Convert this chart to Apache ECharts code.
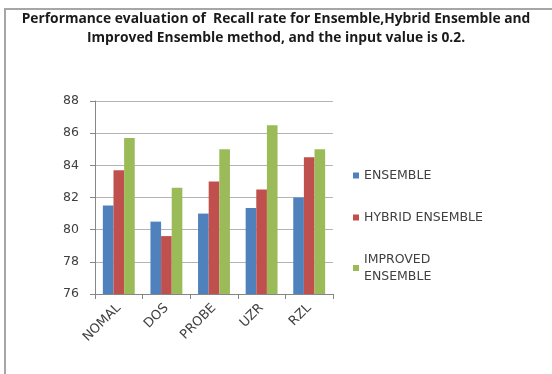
<!DOCTYPE html>
<html>
<head>
<meta charset="utf-8">
<script src="https://cdn.jsdelivr.net/npm/echarts@6/dist/echarts.min.js"></script>
<style>
  html, body { margin: 0; padding: 0; background: #fff; }
  #frame { position: absolute; left: 4px; top: 8px; width: 560px; height: 380px;
           border-left: 2px solid #a6a6a6; border-top: 2px solid #a6a6a6; }
  #main { position: absolute; left: 0; top: 0; width: 552px; height: 374px; }
</style>
</head>
<body>
<div id="frame"></div>
<div id="main"></div>
<script>
// 类别与数值
var categories = ['NOMAL', 'DOS', 'PROBE', 'UZR', 'RZL'];
var seriesNames = ['ENSEMBLE', 'HYBRID ENSEMBLE', 'IMPROVED ENSEMBLE'];
var ensemble = [81.5, 80.5, 81.0, 81.35, 82.0];
var hybridEnsemble = [83.7, 79.6, 83.0, 82.5, 84.5];
var improvedEnsemble = [85.7, 82.6, 85.0, 86.5, 85.0];
var titleLines = ['Performance evaluation of  Recall rate for Ensemble,Hybrid Ensemble and',
                  'Improved Ensemble method, and the input value is 0.2.'];

var myChart = echarts.init(document.getElementById('main'));

var option = {
    backgroundColor: 'transparent',
    color: ['#4F81BD', '#C0504D', '#9BBB59'],
    title: {
        text: titleLines.join('\n'),
        left: 'center',
        top: 5,
        textStyle: {
            fontFamily: 'Open Sans',
            fontWeight: 'bold',
            fontSize: 13.8,
            lineHeight: 19,
            color: '#1a1a1a'
        }
    },
    legend: {
        orient: 'vertical',
        left: 348,
        top: 162,
        itemWidth: 6,
        itemHeight: 6,
        itemGap: 25,
        icon: 'rect',
        data: [
            { name: seriesNames[0] },
            { name: seriesNames[1] },
            { name: seriesNames[2] }
        ],
        formatter: function (name) {
            return name === 'IMPROVED ENSEMBLE' ? 'IMPROVED\nENSEMBLE' : name;
        },
        textStyle: {
            fontFamily: 'DejaVu Sans',
            fontSize: 12.5,
            lineHeight: 17,
            color: '#404040'
        }
    },
    grid: {
        left: 95,
        right: 219,
        top: 101,
        bottom: 80
    },
    xAxis: [{
        type: 'category',
        data: categories,
        axisLine: { lineStyle: { color: '#868686' } },
        axisTick: { show: true, length: 5, lineStyle: { color: '#868686' } },
        axisLabel: {
            rotate: 45,
            fontFamily: 'DejaVu Sans',
            fontSize: 13,
            color: '#404040',
            margin: 12
        }
    }],
    yAxis: [{
        type: 'value',
        min: 76,
        max: 88,
        interval: 2,
        axisLine: { show: true, lineStyle: { color: '#868686' } },
        axisTick: { show: true, length: 5, lineStyle: { color: '#868686' } },
        axisLabel: {
            fontFamily: 'DejaVu Sans',
            fontSize: 12.5,
            color: '#404040',
            margin: 16
        },
        splitLine: { lineStyle: { color: '#b3b3b3' } }
    }],
    series: [{
        name: seriesNames[0],
        type: 'bar',
        barGap: '0%',
        barCategoryGap: '33%',
        data: ensemble
    }, {
        name: seriesNames[1],
        type: 'bar',
        data: hybridEnsemble
    }, {
        name: seriesNames[2],
        type: 'bar',
        data: improvedEnsemble
    }]
};

myChart.setOption(option);
</script>
</body>
</html>
